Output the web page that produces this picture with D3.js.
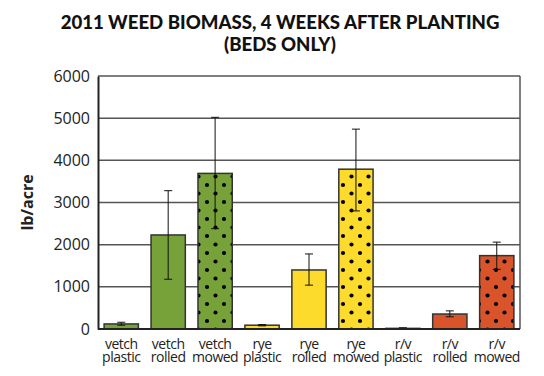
<!DOCTYPE html>
<html>
<head>
<meta charset="utf-8">
<script src="https://cdn.jsdelivr.net/npm/d3@7"></script>
<style>
  body { margin: 0; background: #fff; }
  svg { display: block; }
</style>
</head>
<body>
<div id="chart"></div>
<script>
// data
var covers  = ["vetch", "vetch", "vetch", "rye", "rye", "rye", "r/v", "r/v", "r/v"];
var methods = ["plastic", "rolled", "mowed", "plastic", "rolled", "mowed", "plastic", "rolled", "mowed"];
var biomass = [120, 2230, 3690, 90, 1400, 3790, 15, 355, 1740];
var errLow  = [90, 1180, 2380, 75, 1040, 2800, 0, 290, 1415];
var errHigh = [160, 3280, 5020, 105, 1780, 4740, 30, 430, 2060];
var yTicks  = [0, 1000, 2000, 3000, 4000, 5000, 6000];

var coverColor = {"vetch": "#77a23a", "rye": "#fddb2c", "r/v": "#d9542a"};

var data = covers.map(function(c, i) {
  return {cover: c, method: methods[i], key: c + " " + methods[i],
          value: biomass[i], lo: errLow[i], hi: errHigh[i]};
});

// set the dimensions and margins of the graph
var margin = {top: 76, right: 24, bottom: 47, left: 98},
    width = 544 - margin.left - margin.right,
    height = 376 - margin.top - margin.bottom;

var root = d3.select("#chart")
  .append("svg")
    .attr("width", 544)
    .attr("height", 376);

// dotted fill patterns for the mowed bars
var defs = root.append("defs");
Object.keys(coverColor).forEach(function(c, i) {
  var p = defs.append("pattern")
      .attr("id", "dots" + i)
      .attr("patternUnits", "userSpaceOnUse")
      .attr("x", 3).attr("y", 3)
      .attr("width", 17).attr("height", 17);
  p.append("rect").attr("width", 17).attr("height", 17).attr("fill", coverColor[c]);
  p.append("circle").attr("cx", 4).attr("cy", 4).attr("r", 2.1).attr("fill", "#000");
  p.append("circle").attr("cx", 12.5).attr("cy", 12.5).attr("r", 2.1).attr("fill", "#000");
});
var patternId = {"vetch": "dots0", "rye": "dots1", "r/v": "dots2"};

// title
var title = root.append("text")
    .attr("x", 280)
    .attr("text-anchor", "middle")
    .style("font-family", "Lato, 'Open Sans', sans-serif")
    .style("font-weight", "900")
    .style("font-size", "18.6px")
    .attr("fill", "#111");
title.append("tspan").attr("x", 280).attr("y", 29).text("2011 WEED BIOMASS, 4 WEEKS AFTER PLANTING");
title.append("tspan").attr("x", 280).attr("y", 51).text("(BEDS ONLY)");

var svg = root.append("g")
    .attr("transform", "translate(" + margin.left + "," + margin.top + ")");

// scales
var x = d3.scaleBand()
  .domain(data.map(function(d) { return d.key; }))
  .range([0, width])
  .paddingInner(0.27)
  .paddingOuter(0.13);

var y = d3.scaleLinear()
  .domain([0, 6000])
  .range([height, 0]);

// gridlines
svg.selectAll("grid")
  .data(yTicks)
  .enter()
  .append("line")
    .attr("x1", 0)
    .attr("x2", width)
    .attr("y1", function(d) { return y(d); })
    .attr("y2", function(d) { return y(d); })
    .attr("stroke", "#555")
    .attr("stroke-width", 1.5);

// right border
svg.append("line")
  .attr("x1", width).attr("x2", width)
  .attr("y1", 0).attr("y2", height)
  .attr("stroke", "#555")
  .attr("stroke-width", 1.5);

// Y axis
var yAxis = svg.append("g")
  .call(d3.axisLeft(y).tickValues(yTicks).tickSize(0).tickPadding(8).tickFormat(d3.format("d")));
yAxis.select(".domain").attr("stroke", "#222").attr("stroke-width", 2);
yAxis.selectAll("text")
  .style("font-family", "'Open Sans', sans-serif")
  .style("font-size", "16px")
  .attr("fill", "#222");

// bars
svg.selectAll("bar")
  .data(data)
  .enter()
  .append("rect")
    .attr("x", function(d) { return x(d.key); })
    .attr("y", function(d) { return y(d.value); })
    .attr("width", x.bandwidth())
    .attr("height", function(d) { return height - y(d.value); })
    .attr("fill", function(d) {
      return d.method == "mowed" ? "url(#" + patternId[d.cover] + ")" : coverColor[d.cover];
    })
    .attr("stroke", "#333")
    .attr("stroke-width", 1.5);

// error bars
var cap = 4;
var eb = svg.selectAll("err")
  .data(data)
  .enter()
  .append("g")
    .attr("stroke", "#111")
    .attr("stroke-width", 1);
eb.append("line")
  .attr("x1", function(d) { return x(d.key) + x.bandwidth() / 2; })
  .attr("x2", function(d) { return x(d.key) + x.bandwidth() / 2; })
  .attr("y1", function(d) { return y(d.lo); })
  .attr("y2", function(d) { return y(d.hi); });
eb.append("line")
  .attr("x1", function(d) { return x(d.key) + x.bandwidth() / 2 - cap; })
  .attr("x2", function(d) { return x(d.key) + x.bandwidth() / 2 + cap; })
  .attr("y1", function(d) { return y(d.hi); })
  .attr("y2", function(d) { return y(d.hi); });
eb.append("line")
  .attr("x1", function(d) { return x(d.key) + x.bandwidth() / 2 - cap; })
  .attr("x2", function(d) { return x(d.key) + x.bandwidth() / 2 + cap; })
  .attr("y1", function(d) { return y(d.lo); })
  .attr("y2", function(d) { return y(d.lo); });

// X axis line
svg.append("line")
  .attr("x1", 0).attr("x2", width)
  .attr("y1", height).attr("y2", height)
  .attr("stroke", "#222")
  .attr("stroke-width", 2);

// x labels, two lines each
var xl = svg.selectAll("xlab")
  .data(data)
  .enter()
  .append("text")
    .attr("text-anchor", "middle")
    .style("font-family", "'Open Sans', sans-serif")
    .style("font-size", "14px")
    .style("letter-spacing", "-0.5px")
    .attr("fill", "#222");
xl.append("tspan")
  .attr("x", function(d) { return x(d.key) + x.bandwidth() / 2; })
  .attr("y", height + 20)
  .text(function(d) { return d.cover; });
xl.append("tspan")
  .attr("x", function(d) { return x(d.key) + x.bandwidth() / 2; })
  .attr("y", height + 33)
  .text(function(d) { return d.method; });

// Y label
root.append("text")
  .attr("transform", "translate(33," + (margin.top + height / 2) + ")rotate(-90)")
  .attr("text-anchor", "middle")
  .style("font-family", "'Open Sans', sans-serif")
  .style("font-weight", "bold")
  .style("font-size", "16px")
  .attr("fill", "#222")
  .text("lb/acre");
</script>
</body>
</html>
